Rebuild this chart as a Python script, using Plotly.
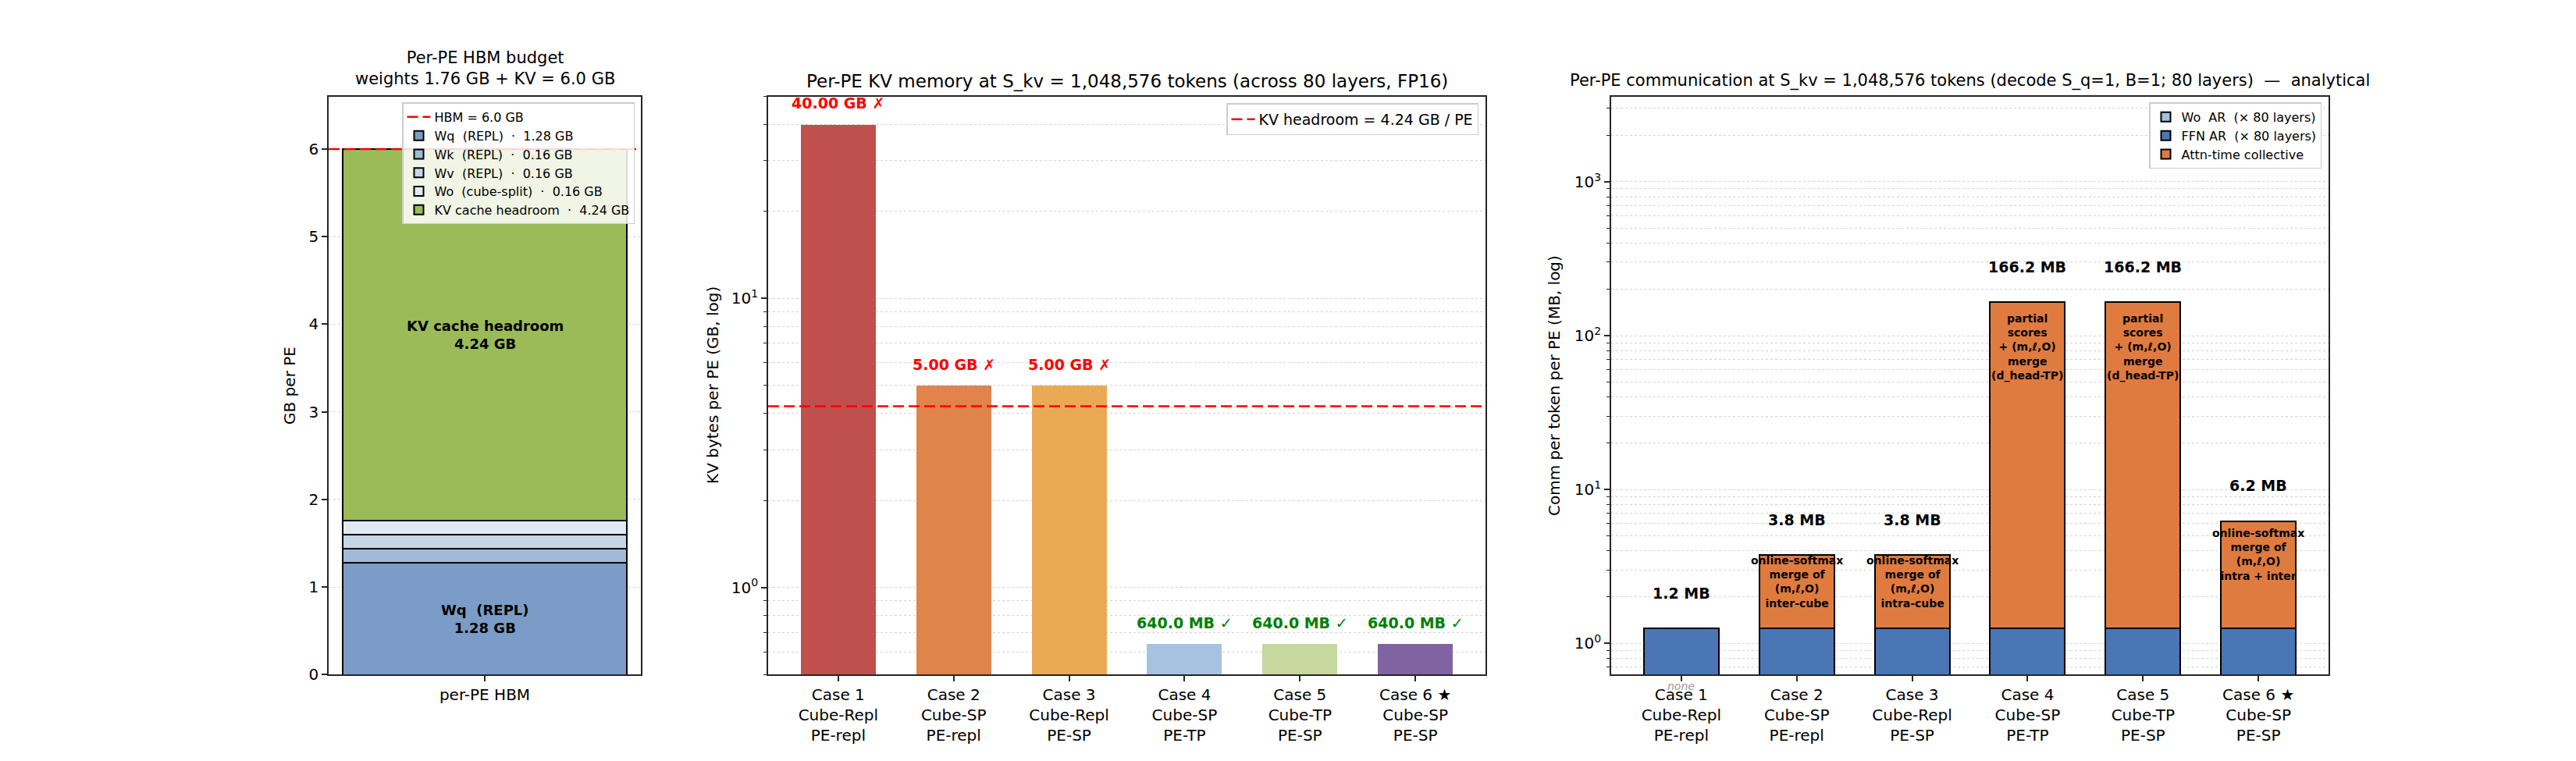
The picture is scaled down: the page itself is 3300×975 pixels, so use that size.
import numpy as np
import plotly.graph_objects as go

W, H = 3300, 975
FONT = "DejaVu Sans"

# ---------------- data ----------------
# Left panel: per-PE HBM budget (GB)
hbm_category = ["per-PE HBM"]
hbm_parts = ["Wq  (REPL)", "Wk  (REPL)", "Wv  (REPL)", "Wo  (cube-split)", "KV cache headroom"]
hbm_values = [1.28, 0.16, 0.16, 0.16, 4.24]
hbm_colors = ["#7a9cc6", "#a0bad8", "#c5d6e8", "#e1e9f3", "#9bbb59"]
hbm_limit = 6.0

# Middle panel: KV bytes per PE (GB)
case_labels = [
    "Case 1<br>Cube-Repl<br>PE-repl",
    "Case 2<br>Cube-SP<br>PE-repl",
    "Case 3<br>Cube-Repl<br>PE-SP",
    "Case 4<br>Cube-SP<br>PE-TP",
    "Case 5<br>Cube-TP<br>PE-SP",
    "Case 6 ★<br>Cube-SP<br>PE-SP",
]
kv_gb = [40.0, 5.0, 5.0, 0.64, 0.64, 0.64]
kv_headroom = 4.24
kv_colors = ["#c0504d", "#e0844c", "#eaa955", "#a7c1e0", "#c6d89e", "#8064a2"]

# Right panel: communication per token per PE (MB)
comm_series = ["Wo  AR  (× 80 layers)", "FFN AR  (× 80 layers)", "Attn-time collective"]
wo_ar_mb = [0.05, 0.05, 0.05, 0.05, 0.05, 0.05]
ffn_ar_mb = [1.2, 1.2, 1.2, 1.2, 1.2, 1.2]
attn_mb = [0.0, 2.5, 2.5, 165.0, 165.0, 5.0]
comm_colors = ["#9dc3e6", "#4a76b6", "#e07b3f"]
comm_totals = ["1.2 MB", "3.8 MB", "3.8 MB", "166.2 MB", "166.2 MB", "6.2 MB"]
attn_notes = [
    "",
    "online-softmax<br>merge of<br>(m,ℓ,O)<br>inter-cube",
    "online-softmax<br>merge of<br>(m,ℓ,O)<br>intra-cube",
    "partial<br>scores<br>+ (m,ℓ,O)<br>merge<br>(d_head-TP)",
    "partial<br>scores<br>+ (m,ℓ,O)<br>merge<br>(d_head-TP)",
    "online-softmax<br>merge of<br>(m,ℓ,O)<br>intra + inter",
]

# ---------------- layout geometry ----------------
def px_x(p):
    return p / W

def px_y(p):
    return 1 - p / H

ax_top, ax_bot = 117, 867
dom_y = [px_y(ax_bot), px_y(ax_top)]
dom_left = [px_x(413), px_x(813)]
dom_mid = [px_x(976), px_x(1895)]
dom_right = [px_x(2056), px_x(2975)]

left_xrange = [-0.275, 0.275]
case_x = list(range(len(case_labels)))
bar_w = 0.65
case_xrange = [-bar_w / 2 - 0.05 * (5 + bar_w), 5 + bar_w / 2 + 0.05 * (5 + bar_w)]

mid_yrange = [np.log10(0.5), np.log10(50)]
right_yrange = [np.log10(0.625), np.log10(3590)]

def minor_vals(lo, hi):
    vals = []
    for e in range(-2, 5):
        for k in range(2, 10):
            v = k * 10.0 ** e
            if lo <= v <= hi:
                vals.append(v)
    return vals

fig = go.Figure()

# ---------------- left panel ----------------
fig.add_trace(go.Scatter(
    x=left_xrange, y=[hbm_limit, hbm_limit], mode="lines",
    line=dict(color="red", width=2.5, dash="14px,6px"),
    name=f"HBM = {hbm_limit:.1f} GB", xaxis="x", yaxis="y", legend="legend",
    hoverinfo="skip",
))
for name, val, col in zip(hbm_parts, hbm_values, hbm_colors):
    fig.add_trace(go.Bar(
        x=[0], y=[val], width=0.5, name=f"{name}  ·  {val:.2f} GB",
        marker=dict(color=col, line=dict(color="black", width=2)),
        xaxis="x", yaxis="y", legend="legend",
    ))

# ---------------- middle panel ----------------
fig.add_trace(go.Bar(
    x=case_x, y=kv_gb, width=bar_w,
    marker=dict(color=kv_colors, line=dict(width=0)),
    xaxis="x2", yaxis="y2", showlegend=False,
))
fig.add_trace(go.Scatter(
    x=case_xrange, y=[kv_headroom, kv_headroom], mode="lines",
    line=dict(color="red", width=2.5, dash="14px,6px"),
    name=f"KV headroom = {kv_headroom:.2f} GB / PE", xaxis="x2", yaxis="y2",
    legend="legend2", hoverinfo="skip",
))

# ---------------- right panel ----------------
for name, vals, col in zip(comm_series, [wo_ar_mb, ffn_ar_mb, attn_mb], comm_colors):
    fig.add_trace(go.Bar(
        x=case_x, y=vals, width=bar_w, name=name,
        marker=dict(color=col, line=dict(color="black", width=2)),
        xaxis="x3", yaxis="y3", legend="legend3",
    ))

# ---------------- annotations ----------------
ann = []
def txt(**kw):
    base = dict(showarrow=False, font=dict(family=FONT, size=20, color="black"))
    f = kw.pop("font", {})
    base["font"].update(f)
    base.update(kw)
    ann.append(base)

# titles
txt(text="Per-PE HBM budget<br>weights 1.76 GB + KV = 6.0 GB", xref="paper", yref="paper",
    x=(dom_left[0] + dom_left[1]) / 2, y=px_y(108), xanchor="center", yanchor="bottom",
    font=dict(size=21))
txt(text="Per-PE KV memory at S_kv = 1,048,576 tokens (across 80 layers, FP16)", xref="paper",
    yref="paper", x=(dom_mid[0] + dom_mid[1]) / 2, y=px_y(97), xanchor="center",
    yanchor="middle", font=dict(size=23))
txt(text="Per-PE communication at S_kv = 1,048,576 tokens (decode S_q=1, B=1; 80 layers)  —  analytical",
    xref="paper", yref="paper", x=(dom_right[0] + dom_right[1]) / 2, y=px_y(97),
    xanchor="center", yanchor="middle", font=dict(size=21))

# y-axis titles
for xp, label in [(363, "GB per PE"), (905, "KV bytes per PE (GB, log)"),
                  (1983, "Comm per token per PE (MB, log)")]:
    txt(text=label, xref="paper", yref="paper", x=px_x(xp), y=(dom_y[0] + dom_y[1]) / 2,
        textangle=-90, xanchor="center", yanchor="middle", font=dict(size=20))

# left in-bar labels
cum = np.cumsum([0] + hbm_values)
txt(text=f"<b>{hbm_parts[0]}<br>{hbm_values[0]:.2f} GB</b>", xref="x", yref="y", x=0,
    y=cum[0] + hbm_values[0] / 2, font=dict(size=18))
txt(text=f"<b>{hbm_parts[4]}<br>{hbm_values[4]:.2f} GB</b>", xref="x", yref="y", x=0,
    y=cum[4] + hbm_values[4] / 2, font=dict(size=18))

# middle value labels
for i, v in enumerate(kv_gb):
    if v > kv_headroom:
        s, c = f"{v:.2f} GB ✗", "red"
    else:
        s, c = f"{v * 1000:.1f} MB ✓", "green"
    txt(text=f"<b>{s}</b>", xref="x2", yref="y2", x=i, y=np.log10(v), yshift=27,
        font=dict(size=19, color=c))

# right value labels + notes
for i in range(len(case_x)):
    base = wo_ar_mb[i] + ffn_ar_mb[i]
    total = base + attn_mb[i]
    txt(text=f"<b>{comm_totals[i]}</b>", xref="x3", yref="y3", x=i, y=np.log10(total),
        yshift=45, font=dict(size=19))
    if attn_notes[i]:
        txt(text=f"<b>{attn_notes[i]}</b>", xref="x3", yref="y3", x=i,
            y=np.log10(base + attn_mb[i] / 2), font=dict(size=14))
txt(text="none", xref="x3", yref="y3", x=0, y=right_yrange[0], yshift=-15,
    font=dict(size=14, color="#999999", style="italic"))

# ---------------- axes ----------------
axis_common = dict(
    showline=True, mirror=True, linecolor="#262626", linewidth=1.7,
    ticks="outside", ticklen=7, tickwidth=1.6, tickcolor="#262626",
    tickfont=dict(family=FONT, size=20, color="black"), zeroline=False,
)
grid = dict(showgrid=True, gridcolor="#d3d3d3", gridwidth=1.3, griddash="dot")

fig.update_layout(
    width=W, height=H, margin=dict(l=0, r=0, t=0, b=0),
    paper_bgcolor="white", plot_bgcolor="white",
    barmode="stack", bargap=0,
    font=dict(family=FONT, color="black"),
    showlegend=True,
    xaxis=dict(domain=dom_left, range=left_xrange, tickvals=[0], ticktext=hbm_category,
               showgrid=False, anchor="y", **axis_common),
    yaxis=dict(domain=dom_y, range=[0, 6.6], dtick=1, anchor="x", **grid, **axis_common),
    xaxis2=dict(domain=dom_mid, range=case_xrange, tickvals=case_x, ticktext=case_labels,
                showgrid=False, anchor="y2", **axis_common),
    yaxis2=dict(domain=dom_y, type="log", range=mid_yrange, tickvals=[1, 10],
                ticktext=["10<sup>0</sup>", "10<sup>1</sup>"], anchor="x2",
                minor=dict(tickvals=minor_vals(0.5, 50), ticks="outside", ticklen=4,
                           tickwidth=1.2, tickcolor="#262626", showgrid=True,
                           gridcolor="#d3d3d3", gridwidth=1.3, griddash="dot"),
                **grid, **axis_common),
    xaxis3=dict(domain=dom_right, range=case_xrange, tickvals=case_x, ticktext=case_labels,
                showgrid=False, anchor="y3", **axis_common),
    yaxis3=dict(domain=dom_y, type="log", range=right_yrange, tickvals=[1, 10, 100, 1000],
                ticktext=["10<sup>0</sup>", "10<sup>1</sup>", "10<sup>2</sup>", "10<sup>3</sup>"],
                anchor="x3",
                minor=dict(tickvals=minor_vals(0.6, 3600), ticks="outside", ticklen=4,
                           tickwidth=1.2, tickcolor="#262626", showgrid=True,
                           gridcolor="#d3d3d3", gridwidth=1.3, griddash="dot"),
                **grid, **axis_common),
    legend=dict(x=px_x(805), y=px_y(125), xanchor="right", yanchor="top",
                bgcolor="rgba(255,255,255,0.85)", bordercolor="#cccccc", borderwidth=1.5,
                font=dict(family=FONT, size=16), traceorder="normal", tracegroupgap=0),
    legend2=dict(x=px_x(1886), y=px_y(126), xanchor="right", yanchor="top",
                 bgcolor="rgba(255,255,255,0.85)", bordercolor="#cccccc", borderwidth=1.5,
                 font=dict(family=FONT, size=19), traceorder="normal"),
    legend3=dict(x=px_x(2966), y=px_y(125), xanchor="right", yanchor="top",
                 bgcolor="rgba(255,255,255,0.85)", bordercolor="#cccccc", borderwidth=1.5,
                 font=dict(family=FONT, size=16), traceorder="normal", tracegroupgap=0),
    annotations=ann,
)

fig.write_html("out.html")
